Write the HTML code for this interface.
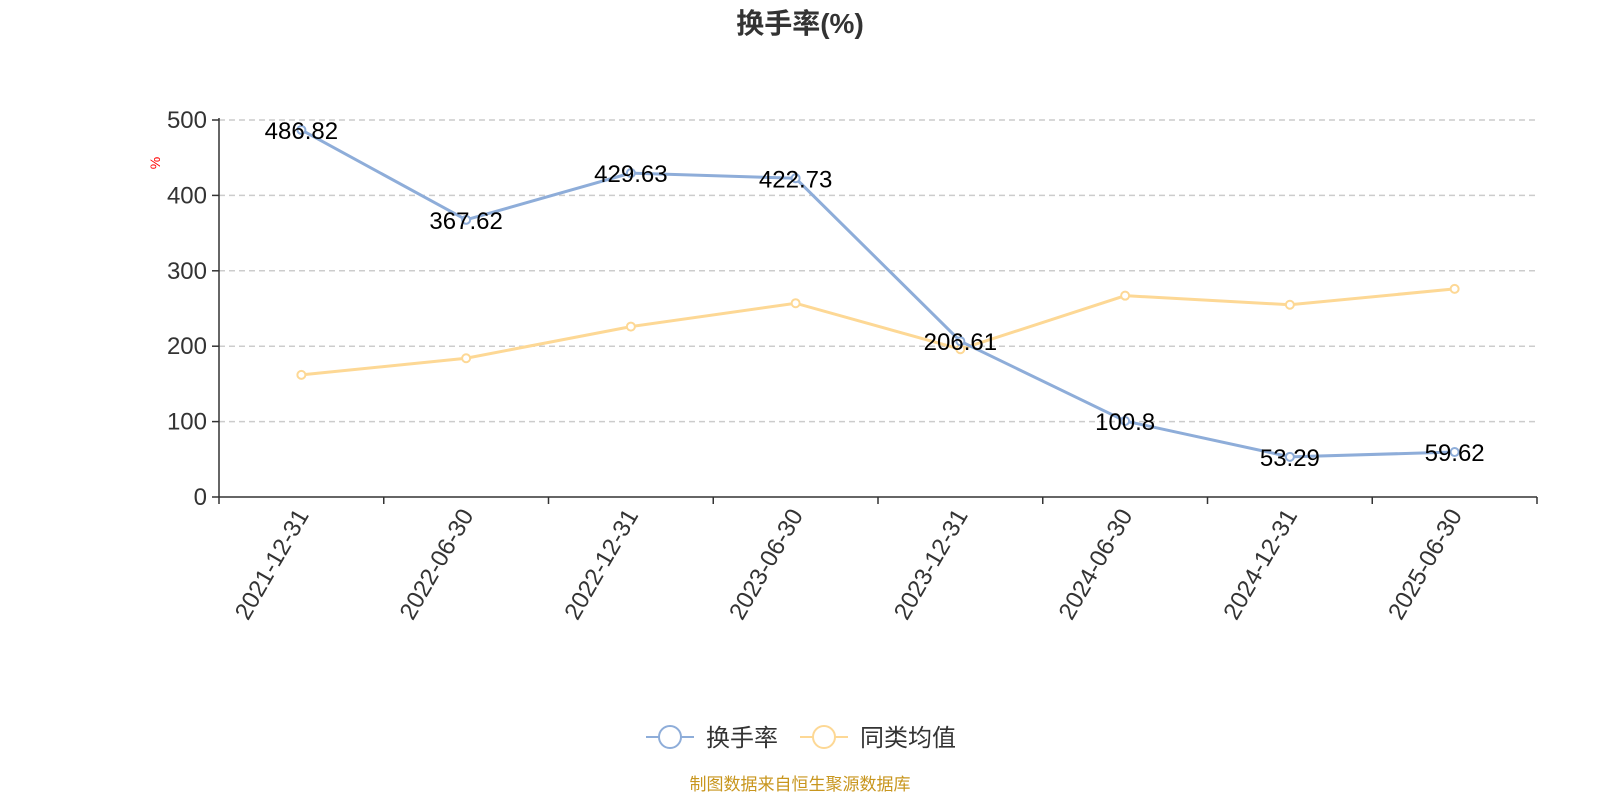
<!DOCTYPE html>
<html><head><meta charset="utf-8"><style>
body{margin:0;background:#fff;}
svg text{font-family:"Liberation Sans","Noto Sans CJK SC",sans-serif;}
</style></head><body>
<svg id="chart" width="1600" height="800" xmlns="http://www.w3.org/2000/svg">
<text x="800" y="33" text-anchor="middle" font-size="28" font-weight="bold" fill="#333">换手率(%)</text>
<text x="160" y="163" text-anchor="middle" font-size="14" fill="red" transform="rotate(-90 160 163)">%</text>
<g id="grid"></g><g id="axes"></g><g id="series"></g>
<g>
<g>
<line x1="646" y1="737" x2="694" y2="737" stroke="#8eadd9" stroke-width="2"/>
<circle cx="670" cy="737" r="11" fill="#fff" stroke="#8eadd9" stroke-width="2"/>
<text x="706" y="746" font-size="24" fill="#333">换手率</text></g>
<g>
<line x1="800" y1="737" x2="848" y2="737" stroke="#fdd895" stroke-width="2"/>
<circle cx="824" cy="737" r="11" fill="#fff" stroke="#fdd895" stroke-width="2"/>
<text x="860" y="746" font-size="24" fill="#333">同类均值</text></g>
</g>
<text x="800" y="790" text-anchor="middle" font-size="17" fill="#c8961e">制图数据来自恒生聚源数据库</text>
</svg>
<script>
const categories=["2021-12-31","2022-06-30","2022-12-31","2023-06-30","2023-12-31","2024-06-30","2024-12-31","2025-06-30"];
const turnover=[486.82,367.62,429.63,422.73,206.61,100.8,53.29,59.62];
const peerAvg=[162,184,226,257,196,267,255,276];
const yTicks=[0,100,200,300,400,500];
const NS="http://www.w3.org/2000/svg";
const x0=219,x1=1537,y0=497,yTop=120;
const band=(x1-x0)/categories.length;
const xs=i=>x0+band*(i+0.5);
const ys=v=>y0-(v/500)*(y0-yTop);
function mk(p,tag,attrs){const e=document.createElementNS(NS,tag);for(const k in attrs)e.setAttribute(k,attrs[k]);p.appendChild(e);return e;}
const grid=document.getElementById('grid'),axes=document.getElementById('axes'),ser=document.getElementById('series');
yTicks.forEach(v=>{
 if(v>0){const g=mk(grid,'line',{x1:x0,x2:x1,y1:ys(v),y2:ys(v),stroke:'#ccc','stroke-dasharray':'6,4','stroke-width':1.5});
 
 }
 mk(axes,'line',{x1:x0-7,x2:x0,y1:ys(v),y2:ys(v),stroke:'#333','stroke-width':1.5});
 const l=mk(axes,'text',{x:x0-12,y:ys(v)+8,'text-anchor':'end','font-size':24,fill:'#333'});l.textContent=v;
 
 
});
mk(axes,'line',{x1:x0,x2:x0,y1:yTop-2,y2:y0,stroke:'#333','stroke-width':1.5});
mk(axes,'line',{x1:x0,x2:x1,y1:y0,y2:y0,stroke:'#333','stroke-width':1.5});
for(let i=0;i<=categories.length;i++)mk(axes,'line',{x1:x0+band*i,x2:x0+band*i,y1:y0,y2:y0+7,stroke:'#333','stroke-width':1.5});
categories.forEach((c,i)=>{
 const x=xs(i)+8,y=y0+18;
 const t=mk(axes,'text',{x:x,y:y,'text-anchor':'end','font-size':24,fill:'#333',transform:`rotate(-60 ${x} ${y})`});t.textContent=c;
 
 
});
function series(data,color,name,labels){
 const p=mk(ser,'polyline',{points:data.map((v,i)=>xs(i)+','+ys(v)).join(' '),fill:'none',stroke:color,'stroke-width':3});
 
 
 data.forEach((v,i)=>{
  const c=mk(ser,'circle',{cx:xs(i),cy:ys(v),r:4,fill:'#fff',stroke:color,'stroke-width':2});
  
  
  if(labels){const t=mk(ser,'text',{x:xs(i),y:ys(v)+9,'text-anchor':'middle','font-size':24,fill:'#000'});t.textContent=v;
  
  }
 });
}
series(peerAvg,'#fdd895','peer-average',false);
series(turnover,'#8eadd9','turnover',true);
</script>
</body></html>
